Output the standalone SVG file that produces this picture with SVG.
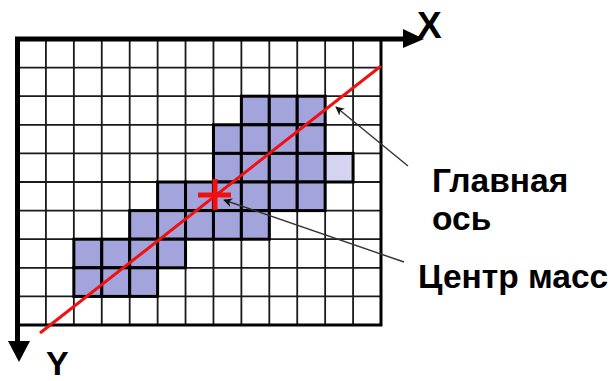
<svg xmlns="http://www.w3.org/2000/svg" width="611" height="381" viewBox="0 0 611 381">
<defs>
<style>
.grid{stroke:#1a1a1a;stroke-width:1.8;fill:none}
.cell{fill:#a4a4dc;stroke:#000;stroke-width:3}
.light{fill:#d4d4f0;stroke:#000;stroke-width:3}
.axis{stroke:#000;stroke-width:5;fill:none}
.frame{stroke:#000;stroke-width:3;fill:none}
.ptr{stroke:#333;stroke-width:1.4;fill:none;marker-end:url(#ah)}
.lbl{font-family:"Liberation Sans",Arial,sans-serif;font-weight:bold;font-size:33.5px;fill:#000}
.axl{font-family:"Liberation Sans",Arial,sans-serif;font-weight:bold;font-size:37px;fill:#000}
</style>
<marker id="ah" viewBox="0 0 10 10" refX="9" refY="5" markerWidth="9" markerHeight="9" markerUnits="userSpaceOnUse" orient="auto">
<path d="M0,0 L10,5 L0,10 L3,5 Z" fill="#111"/>
</marker>
</defs>
<rect width="611" height="381" fill="#fff"/>
<g id="grid">
<path class="grid" d="M45.92,39V325M73.85,39V325M101.77,39V325M129.69,39V325M157.62,39V325M185.54,39V325M213.46,39V325M241.38,39V325M269.31,39V325M297.23,39V325M325.15,39V325M353.08,39V325M18,67.6H381M18,96.2H381M18,124.8H381M18,153.4H381M18,182H381M18,210.6H381M18,239.2H381M18,267.8H381M18,296.4H381"/>
</g>
<g id="region">
<rect class="cell" x="241.38" y="96.2" width="27.92" height="28.6"/>
<rect class="cell" x="269.31" y="96.2" width="27.92" height="28.6"/>
<rect class="cell" x="297.23" y="96.2" width="27.92" height="28.6"/>
<rect class="cell" x="213.46" y="124.8" width="27.92" height="28.6"/>
<rect class="cell" x="241.38" y="124.8" width="27.92" height="28.6"/>
<rect class="cell" x="269.31" y="124.8" width="27.92" height="28.6"/>
<rect class="cell" x="297.23" y="124.8" width="27.92" height="28.6"/>
<rect class="cell" x="213.46" y="153.4" width="27.92" height="28.6"/>
<rect class="cell" x="241.38" y="153.4" width="27.92" height="28.6"/>
<rect class="cell" x="269.31" y="153.4" width="27.92" height="28.6"/>
<rect class="cell" x="297.23" y="153.4" width="27.92" height="28.6"/>
<rect class="light" x="325.15" y="153.4" width="27.92" height="28.6"/>
<rect class="cell" x="157.62" y="182" width="27.92" height="28.6"/>
<rect class="cell" x="185.54" y="182" width="27.92" height="28.6"/>
<rect class="cell" x="213.46" y="182" width="27.92" height="28.6"/>
<rect class="cell" x="241.38" y="182" width="27.92" height="28.6"/>
<rect class="cell" x="269.31" y="182" width="27.92" height="28.6"/>
<rect class="cell" x="297.23" y="182" width="27.92" height="28.6"/>
<rect class="cell" x="129.69" y="210.6" width="27.92" height="28.6"/>
<rect class="cell" x="157.62" y="210.6" width="27.92" height="28.6"/>
<rect class="cell" x="185.54" y="210.6" width="27.92" height="28.6"/>
<rect class="cell" x="213.46" y="210.6" width="27.92" height="28.6"/>
<rect class="cell" x="241.38" y="210.6" width="27.92" height="28.6"/>
<rect class="cell" x="73.85" y="239.2" width="27.92" height="28.6"/>
<rect class="cell" x="101.77" y="239.2" width="27.92" height="28.6"/>
<rect class="cell" x="129.69" y="239.2" width="27.92" height="28.6"/>
<rect class="cell" x="157.62" y="239.2" width="27.92" height="28.6"/>
<rect class="cell" x="73.85" y="267.8" width="27.92" height="28.6"/>
<rect class="cell" x="101.77" y="267.8" width="27.92" height="28.6"/>
<rect class="cell" x="129.69" y="267.8" width="27.92" height="28.6"/>
</g>
<g id="frame">
<path class="frame" d="M381,39V325H18"/>
<path class="axis" d="M17.5,342V39H404"/>
<path d="M403,29 L424,39 L403,48 Z" fill="#000"/>
<path d="M8,341 L19,362 L30,341 Z" fill="#000"/>
<text class="axl" x="417" y="38">X</text>
<text class="axl" x="46" y="375" style="font-size:34px">Y</text>
</g>
<g id="main-axis">
<line x1="40" y1="333" x2="381" y2="66" stroke="#f01010" stroke-width="3"/>
</g>
<g id="center">
<path d="M198,195H231M215,179V210" stroke="#f01010" stroke-width="5" fill="none"/>
</g>
<g id="connectors">
<line class="ptr" x1="408" y1="166" x2="336" y2="107"/>
<line class="ptr" x1="404" y1="262" x2="224" y2="200"/>
</g>
<g id="label-axis">
<text class="lbl" x="432" y="192">Главная</text>
<text class="lbl" x="432" y="230">ось</text>
</g>
<g id="label-center">
<text class="lbl" x="418" y="288">Центр масс</text>
</g>
</svg>
